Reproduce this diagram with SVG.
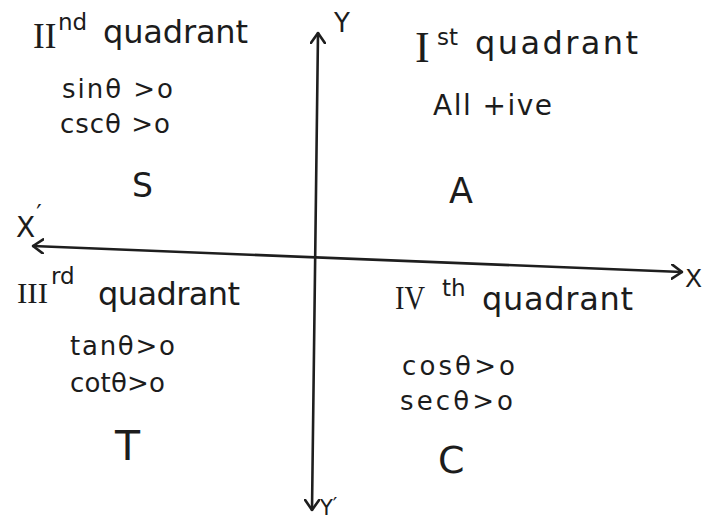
<svg xmlns="http://www.w3.org/2000/svg" width="705" height="520" viewBox="0 0 705 520">
<defs>
<style>
.t{font-family:"DejaVu Sans","Noto Sans",sans-serif;fill:#1c1c1c}
.r{font-family:"Liberation Serif","DejaVu Serif",serif;fill:#1c1c1c}
.b{font-size:26px}
.sup{font-size:23px}
.q{font-size:32px}
.ax{stroke:#1e1e1e;stroke-width:2.6;fill:none;stroke-linecap:round}
</style>
<marker id="arr" viewBox="0 0 12 16" refX="11" refY="8" markerWidth="12" markerHeight="16" markerUnits="userSpaceOnUse" orient="auto-start-reverse">
<path d="M1,1 L11,8 L1,15" fill="none" stroke="#1e1e1e" stroke-width="2.6" stroke-linecap="round" stroke-linejoin="round"/>
</marker>
</defs>
<rect width="705" height="520" fill="#fff"/>
<g id="connectors">
<line id="x-axis" class="ax" x1="33" y1="246" x2="682" y2="272" marker-start="url(#arr)" marker-end="url(#arr)"/>
<line id="y-axis" class="ax" x1="318" y1="33" x2="312" y2="510" marker-start="url(#arr)" marker-end="url(#arr)"/>
</g>
<g id="axis-labels">
<text class="t" x="16" y="237" font-size="28">X<tspan font-size="24" dx="1" dy="-15">′</tspan></text>
<text class="t" x="685" y="287" font-size="25">X</text>
<text class="t" x="334" y="32" font-size="26">Y</text>
<text class="t" x="320" y="515" font-size="21">Y<tspan font-size="20" dy="-4">′</tspan></text>
</g>
<g id="quadrant-2">
<text class="r" x="33" y="48" font-size="35">II</text>
<text class="t sup" x="58" y="30">nd</text>
<text class="t q" x="103" y="43" textLength="145" lengthAdjust="spacing">quadrant</text>
<text class="t b" x="62" y="98" textLength="111" lengthAdjust="spacing">sinθ &gt;o</text>
<text class="t b" x="60" y="133" textLength="110" lengthAdjust="spacing">cscθ &gt;o</text>
<text class="t" x="132" y="197" font-size="33">S</text>
</g>
<g id="quadrant-1">
<text class="r" x="415" y="62" font-size="44">I</text>
<text class="t sup" x="437" y="45">st</text>
<text class="t q" x="475" y="54" textLength="163" lengthAdjust="spacing">quadrant</text>
<text class="t" x="433" y="115" font-size="28" textLength="119" lengthAdjust="spacing">All +ive</text>
<text class="t" x="449" y="203" font-size="35">A</text>
</g>
<g id="quadrant-3">
<text class="r" x="17" y="303" font-size="30" textLength="31" lengthAdjust="spacingAndGlyphs">III</text>
<text class="t sup" x="51" y="284">rd</text>
<text class="t q" x="98" y="305" textLength="142" lengthAdjust="spacing">quadrant</text>
<text class="t b" x="70" y="355" textLength="105" lengthAdjust="spacing">tanθ&gt;o</text>
<text class="t b" x="70" y="392" textLength="95" lengthAdjust="spacing">cotθ&gt;o</text>
<text class="t" x="115" y="460" font-size="41">T</text>
</g>
<g id="quadrant-4">
<text class="r" x="395" y="309" font-size="34" textLength="30" lengthAdjust="spacingAndGlyphs">IV</text>
<text class="t sup" x="442" y="296">th</text>
<text class="t q" x="482" y="310" textLength="151" lengthAdjust="spacing">quadrant</text>
<text class="t b" x="402" y="375" textLength="113" lengthAdjust="spacing">cosθ&gt;o</text>
<text class="t b" x="400" y="410" textLength="113" lengthAdjust="spacing">secθ&gt;o</text>
<text class="t" x="438" y="473" font-size="38">C</text>
</g>
</svg>
